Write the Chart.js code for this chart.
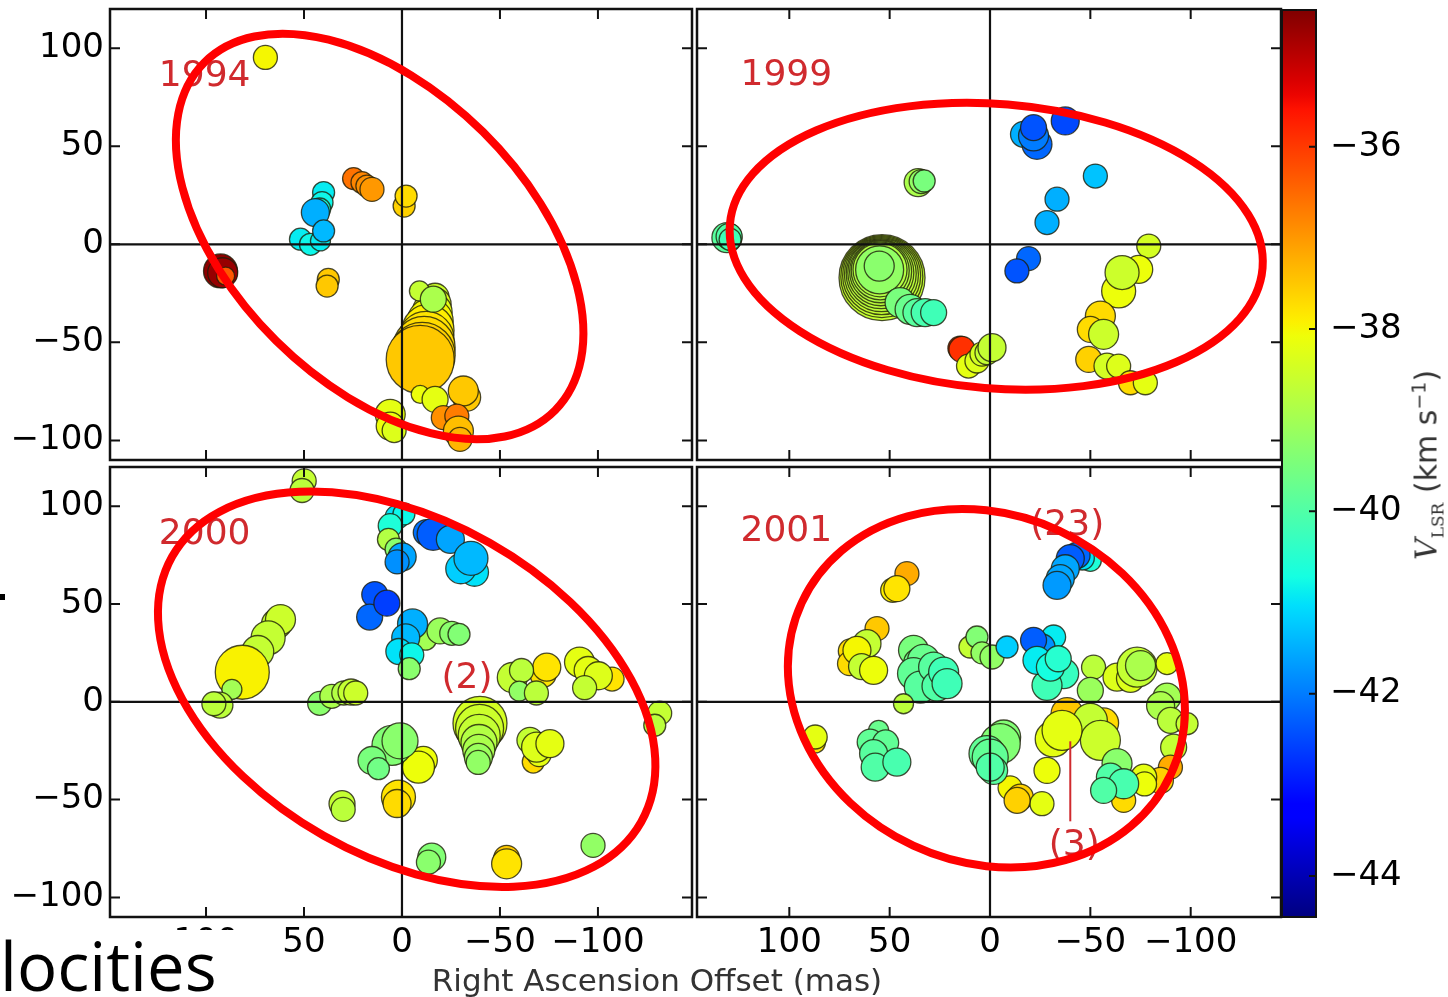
<!DOCTYPE html>
<html>
<head>
<meta charset="utf-8">
<script src="https://cdn.jsdelivr.net/npm/chart.js@4.4.0/dist/chart.umd.min.js"></script>
<style>
  html, body { margin: 0; padding: 0; background: #fff; }
  #wrap { position: relative; width: 1448px; height: 997px; overflow: hidden; background: #fff; }
  #wrap canvas { position: absolute; left: 0; top: 0; }
  .txt { position: absolute; white-space: nowrap; }
</style>
</head>
<body>
<div id="wrap">
  <canvas id="p1994" width="1448" height="997"></canvas>
  <canvas id="p1999" width="1448" height="997"></canvas>
  <canvas id="p2000" width="1448" height="997"></canvas>
  <canvas id="p2001" width="1448" height="997"></canvas>
  <canvas id="cbar" width="1448" height="997"></canvas>

  <div class="txt" id="xlabel" style="left:657px; top:962px; transform:translateX(-50%); font-family:'DejaVu Sans'; font-size:31px; line-height:36px; color:#333;">Right Ascension Offset (mas)</div>
  <div class="txt" id="cblabel" style="left:1428px; top:465px; transform:translate(-50%,-50%) rotate(-90deg); font-family:'DejaVu Sans'; font-size:30px; line-height:36px; color:#333;"><span style="font-family:'DejaVu Serif'; font-style:italic;">V</span><sub style="font-family:'DejaVu Serif'; font-size:17px;">LSR</sub> (km s<sup style="font-size:19px;">−1</sup>)</div>
  <div class="txt" style="left:0; top:930px; width:240px; height:67px; background:#fff;"></div>
  <div class="txt" style="left:0; top:932px; font-family:'Open Sans'; font-size:67px; line-height:67px; color:#000;">locities</div>
  <div class="txt" style="left:0; top:594px; width:5px; height:6px; background:#000;"></div>
</div>

<script>
// Maser spots per epoch: [RA offset (mas), Dec offset (mas), V_LSR (km/s), spot size]
const spots1994 = [
  [69.7, 95.3, -38.0, 12],
  [24.7, 33.5, -36.6, 11], [20.4, 31.5, -36.8, 11], [17.9, 29.7, -36.9, 11], [15.3, 28.0, -37.0, 12],
  [-1.1, 19.5, -37.6, 11], [-2.1, 24.6, -37.7, 11],
  [40.0, 26.4, -40.9, 11], [40.8, 21.3, -40.8, 11], [42.0, 18.0, -40.7, 11], [44.2, 16.2, -41.5, 14],
  [51.8, 2.6, -40.9, 11], [46.7, 0.0, -40.8, 11], [41.6, 1.7, -40.9, 10], [40.0, 6.8, -41.4, 11],
  [92.6, -13.6, -34.6, 17], [91.5, -14.5, -34.7, 15], [90.0, -16.2, -36.3, 9],
  [37.6, -17.9, -37.5, 11], [38.2, -21.3, -37.5, 11],
  [-16.9, -27.0, -38.5, 14], [-16.4, -30.6, -38.3, 17], [-15.4, -34.7, -38.2, 20], [-14.4, -39.3, -38.0, 23],
  [-13.3, -43.9, -37.9, 26], [-12.3, -48.5, -37.8, 28], [-11.3, -52.6, -37.7, 31], [-10.3, -56.6, -37.6, 33],
  [-9.3, -58.7, -37.5, 34],
  [-8.9, -23.8, -38.6, 10], [-16.0, -28.0, -38.9, 13],
  [-9.3, -76.5, -38.1, 9], [-16.9, -79.1, -38.2, 13],
  [-33.0, -78.0, -37.5, 14], [-31.3, -74.8, -37.5, 15],
  [-21.1, -88.4, -36.9, 12], [-28.0, -87.6, -36.7, 12],
  [-28.8, -95.3, -37.4, 15], [-29.6, -99.5, -37.3, 12],
  [6.0, -86.7, -38.2, 15], [6.0, -92.7, -38.1, 14], [4.0, -95.0, -38.3, 12]
];

const spots1999 = [
  [131.1, 3.4, -39.9, 15], [130.0, 4.0, -40.0, 13], [129.5, 2.5, -40.2, 11],
  [35.8, 31.5, -38.9, 14], [34.3, 32.0, -39.2, 12], [32.8, 32.3, -39.5, 11],
  [53.8, -17.0, -38.6, 43], [53.9, -16.5, -38.6, 41], [54.0, -16.0, -38.6, 39], [54.1, -15.5, -38.7, 37],
  [54.2, -15.0, -38.7, 35], [54.4, -14.5, -38.7, 33], [54.5, -14.0, -38.8, 31], [54.7, -13.5, -38.8, 29],
  [54.8, -13.0, -38.8, 27], [55.0, -13.0, -39.2, 24], [55.2, -11.1, -39.3, 15],
  [44.8, -29.7, -39.5, 15], [39.8, -33.2, -39.7, 15], [36.4, -34.8, -39.9, 14], [32.3, -34.8, -40.1, 14],
  [28.1, -34.8, -40.2, 13],
  [15.0, -53.0, -35.8, 12], [14.0, -53.6, -35.9, 13],
  [10.7, -62.1, -38.2, 12], [6.5, -59.5, -38.3, 12], [4.0, -56.0, -38.4, 12],
  [1.5, -55.3, -38.6, 12], [-1.0, -52.7, -38.6, 14],
  [-16.7, 56.1, -41.5, 13], [-23.4, 51.0, -42.2, 15], [-21.7, 55.3, -42.0, 15], [-21.7, 59.5, -42.4, 13],
  [-37.5, 62.9, -42.5, 14],
  [-52.5, 34.8, -41.3, 12], [-33.4, 23.0, -41.5, 12], [-28.4, 11.1, -41.5, 12],
  [-19.2, -7.3, -42.2, 12], [-13.4, -13.6, -42.4, 12],
  [-79.1, -0.9, -38.4, 12], [-74.1, -12.8, -38.1, 14], [-64.1, -23.8, -38.1, 17], [-65.8, -14.4, -38.5, 17],
  [-55.0, -36.6, -37.7, 15], [-50.0, -43.4, -37.7, 13], [-56.6, -45.9, -38.5, 15],
  [-49.2, -58.7, -37.6, 13], [-58.3, -62.1, -38.4, 13], [-64.1, -62.1, -38.3, 12],
  [-70.0, -70.6, -37.7, 12], [-77.4, -70.6, -38.2, 12]
];

const spots2000 = [
  [49.9, 112.9, -38.6, 12], [51.0, 108.0, -38.7, 12],
  [2.5, 94.4, -41.0, 12], [-1.0, 96.0, -40.8, 11], [6.0, 90.0, -40.6, 12], [6.9, 83.0, -38.8, 11], [3.0, 78.0, -39.3, 11],
  [-0.1, 74.1, -41.6, 14], [2.5, 71.5, -41.8, 12], [-12.4, 86.5, -42.1, 13], [-15.9, 85.6, -42.3, 16],
  [-24.7, 83.0, -41.6, 14], [-37.0, 66.2, -41.0, 14], [-30.0, 68.0, -41.2, 15], [-35.2, 73.3, -41.4, 17],
  [13.9, 54.8, -42.4, 13], [16.5, 43.3, -42.2, 13], [7.7, 50.4, -42.6, 13],
  [-12.0, 32.0, -39.0, 11], [-19.4, 36.2, -39.1, 13], [-25.4, 35.0, -39.3, 12], [-29.1, 34.5, -39.4, 11],
  [-5.4, 39.8, -41.5, 15], [-1.9, 32.7, -41.4, 14], [1.6, 25.7, -41.0, 13], [-5.0, 24.0, -40.8, 12],
  [-3.7, 16.9, -39.3, 11],
  [64.0, 39.8, -38.6, 15], [62.0, 42.0, -38.5, 15], [68.3, 32.7, -38.6, 17], [73.6, 25.7, -38.6, 16],
  [81.5, 15.1, -37.95, 27], [86.8, 6.3, -39.0, 10], [92.9, -1.7, -38.7, 13], [96.0, -1.0, -38.7, 12],
  [42.0, -0.8, -39.3, 12], [35.8, 2.8, -38.9, 12], [29.7, 4.5, -38.8, 12], [26.0, 5.0, -38.6, 13], [23.6, 4.5, -38.5, 12],
  [-72.0, 14.0, -37.8, 13], [-73.9, 17.7, -37.8, 14],
  [-56.3, 12.4, -38.6, 15], [-61.0, 16.0, -38.7, 12], [-59.8, 5.4, -39.2, 10], [-68.6, 4.5, -38.7, 12],
  [-107.2, 11.6, -37.8, 12], [-90.6, 20.3, -38.2, 15], [-95.0, 16.0, -38.2, 14], [-100.2, 13.3, -38.3, 14],
  [-93.2, 7.2, -38.6, 12],
  [-131.5, -5.8, -38.6, 12], [-129.0, -12.0, -38.7, 11],
  [-39.8, -11.0, -38.4, 27], [-39.6, -13.6, -38.5, 24], [-39.4, -17.2, -38.6, 21], [-39.3, -20.8, -38.8, 18],
  [-39.2, -24.8, -38.9, 16], [-39.0, -28.4, -39.1, 14], [-38.9, -31.0, -39.2, 12],
  [-67.0, -30.8, -37.7, 11], [-65.3, -19.7, -38.6, 13], [-70.0, -27.0, -38.2, 12],
  [-68.7, -23.2, -38.3, 15], [-75.5, -21.4, -38.2, 14],
  [1.8, -48.7, -37.8, 17], [2.5, -52.0, -37.7, 14],
  [-10.9, -29.9, -38.1, 14], [-8.4, -33.4, -38.1, 16],
  [5.1, -22.3, -39.4, 20], [1.0, -20.0, -39.3, 18], [15.3, -30.0, -39.5, 14], [12.0, -34.2, -39.6, 11],
  [30.6, -52.1, -38.6, 13], [30.0, -55.0, -38.7, 12],
  [-15.2, -79.4, -39.4, 14], [-13.5, -82.0, -39.3, 12],
  [-53.4, -80.0, -37.5, 13], [-53.4, -82.8, -37.8, 15],
  [-97.5, -73.4, -39.2, 12]
];

const spots2001 = [
  [41.4, 65.5, -37.2, 12], [48.5, 57.0, -37.9, 12], [46.4, 57.8, -37.8, 13],
  [56.3, 37.4, -37.5, 12], [69.6, 26.0, -37.7, 12], [70.0, 19.5, -37.7, 12], [61.3, 29.7, -38.6, 14],
  [66.3, 26.3, -38.0, 14], [64.0, 18.0, -38.6, 13], [58.0, 16.1, -38.1, 14],
  [38.1, 26.3, -39.5, 15], [36.0, 20.0, -39.6, 14], [33.1, 21.2, -39.7, 16], [38.1, 14.4, -39.8, 16],
  [34.7, 7.5, -39.9, 16], [28.1, 17.7, -39.9, 15], [26.4, 8.0, -40.0, 15], [23.1, 15.2, -40.2, 15],
  [21.4, 9.3, -40.2, 15],
  [43.1, -1.0, -38.7, 10],
  [10.0, 28.0, -38.6, 11], [6.5, 33.1, -39.4, 11], [4.0, 25.0, -39.2, 11], [-1.0, 22.9, -39.2, 12],
  [-8.5, 28.0, -41.2, 11], [-31.7, 33.1, -40.9, 12], [-25.9, 28.0, -41.8, 13], [-21.7, 31.4, -42.3, 13],
  [-36.7, 14.4, -40.3, 15], [-28.4, 8.4, -40.2, 15], [-23.4, 21.2, -40.9, 14], [-30.1, 17.7, -40.7, 14],
  [-34.0, 22.0, -40.5, 13],
  [-50.0, 72.3, -40.6, 11], [-46.0, 73.5, -41.0, 12], [-43.4, 74.9, -42.2, 13], [-40.0, 73.2, -42.3, 14],
  [-37.5, 68.0, -41.6, 14], [-35.0, 62.9, -41.6, 14], [-33.4, 59.5, -41.7, 14],
  [-51.6, 17.7, -38.7, 12], [-50.0, 5.8, -39.1, 13], [-63.3, 12.6, -38.3, 14], [-70.0, 12.0, -38.3, 14],
  [-73.3, 17.7, -38.6, 20], [-75.0, 18.5, -38.9, 15], [-88.2, 19.5, -38.2, 11],
  [-88.2, 2.4, -39.0, 14], [-85.0, -2.0, -38.9, 14], [-89.9, -9.5, -38.7, 13], [-98.2, -11.2, -38.6, 11],
  [-91.5, -23.2, -38.6, 13], [-89.9, -33.4, -37.2, 12], [-84.9, -40.2, -37.6, 13],
  [-38.4, -6.1, -37.5, 16], [-56.6, -10.8, -37.7, 15], [-50.0, -9.5, -38.6, 17], [-55.0, -19.7, -38.5, 20],
  [-31.5, -19.0, -38.2, 18], [-35.9, -14.6, -38.2, 20], [-28.4, -35.1, -38.1, 13],
  [-66.6, -50.4, -37.7, 12], [-63.3, -31.6, -39.3, 15], [-76.6, -38.5, -38.2, 13], [-77.0, -42.0, -38.1, 12],
  [-60.0, -38.5, -40.0, 14], [-66.6, -41.9, -40.1, 15], [-56.6, -45.3, -40.0, 13],
  [-10.0, -44.0, -38.0, 12], [-15.1, -48.7, -37.6, 13], [-25.9, -52.1, -38.2, 12], [-13.5, -50.4, -37.6, 13],
  [-6.8, -18.0, -39.4, 17], [-5.1, -21.4, -39.4, 20], [1.5, -26.5, -39.8, 18], [-0.1, -28.3, -39.8, 18],
  [-1.8, -35.1, -39.9, 14], [-0.1, -33.4, -40.0, 14],
  [55.5, -14.6, -39.7, 10], [59.7, -20.6, -39.8, 13], [52.0, -21.0, -39.8, 13], [58.0, -26.5, -39.9, 14],
  [57.2, -33.4, -40.0, 14], [46.4, -30.8, -40.1, 14],
  [87.0, -21.0, -37.8, 10], [87.1, -18.0, -38.2, 12]
];

// Tick values for the offset axes and the velocity colour bar
const xTickValues = [-100, -50, 0, 50, 100];
const yTickValues = [-100, -50, 0, 50, 100];
const cbarTickValues = [-44, -42, -40, -38, -36];
const vMin = -44.45, vMax = -34.5;

// Hand-drawn ring around each epoch's emission: centre (mas), semi-axes (mas), tilt (deg)
const ring1994 = { ra: 11.4, dec: 4.0, a: 126, b: 75, tilt: 44.7 };
const ring1999 = { ra: -3.1, dec: -1.0, a: 134.7, b: 71.7, tilt: 4.7 };
const ring2000 = { ra: -2.4, dec: 6.4, a: 137.6, b: 86, tilt: 29.5 };
const ring2001 = { ra: 1.8, dec: 6.9, a: 102.7, b: 87.6, tilt: 24.9 };

// Annotations: epoch tag and feature numbers
const notes1994 = [{ text: '1994', ra: 100.7, dec: 85.6 }];
const notes1999 = [{ text: '1999', ra: 101.5, dec: 86.1 }];
const notes2000 = [{ text: '2000', ra: 100.7, dec: 85.6 }, { text: '(2)', ra: -33.2, dec: 12.0 }];
const notes2001 = [{ text: '2001', ra: 101.5, dec: 87.0 }, { text: '(23)', ra: -38.5, dec: 90.2 }, { text: '(3)', ra: -42, dec: -73.4 }];
const leader2001 = [[-40, -20.2], [-40, -61.1]];

// matplotlib "jet" colour map
const JET = {
  r: [[0, 0], [0.35, 0], [0.66, 1], [0.89, 1], [1, 0.5]],
  g: [[0, 0], [0.125, 0], [0.375, 1], [0.64, 1], [0.91, 0], [1, 0]],
  b: [[0, 0.5], [0.11, 1], [0.34, 1], [0.65, 0], [1, 0]]
};
function interp(pts, t) {
  for (let i = 1; i < pts.length; i++) {
    if (t <= pts[i][0]) {
      const [x0, y0] = pts[i - 1], [x1, y1] = pts[i];
      return y0 + (y1 - y0) * (t - x0) / (x1 - x0);
    }
  }
  return pts[pts.length - 1][1];
}
function jetAt(t) {
  t = Math.max(0, Math.min(1, t));
  const c = k => Math.round(255 * interp(JET[k], t));
  return `rgb(${c('r')},${c('g')},${c('b')})`;
}
function velColor(v) { return jetAt((v - vMin) / (vMax - vMin)); }

const fmt = v => (v < 0 ? '\u2212' + Math.abs(v) : String(v));
const W = 1448, H = 997;
const RED_TEXT = '#d02a2e';

const panels = [
  { id: 'p1994', spots: spots1994, ring: ring1994, notes: notes1994, leader: null, box: { l: 110, r: 692, t: 9, b: 460 }, xr: [-148, 149], showX: false, showY: true },
  { id: 'p1999', spots: spots1999, ring: ring1999, notes: notes1999, leader: null, box: { l: 697, r: 1281, t: 9, b: 460 }, xr: [-145, 146], showX: false, showY: false },
  { id: 'p2000', spots: spots2000, ring: ring2000, notes: notes2000, leader: null, box: { l: 110, r: 692, t: 467, b: 917 }, xr: [-148, 149], showX: true, showY: true },
  { id: 'p2001', spots: spots2001, ring: ring2001, notes: notes2001, leader: leader2001, box: { l: 697, r: 1281, t: 467, b: 917 }, xr: [-145, 146], showX: true, showY: false }
];

const tickFont = { family: 'DejaVu Sans', size: 34, lineHeight: 1 };

// keep the plot box exactly where the layout puts it
function pinScale(sc, size) {
  if (sc.isHorizontal()) sc.height = size; else sc.width = size;
  sc.paddingTop = 0; sc.paddingBottom = 0; sc.paddingLeft = 0; sc.paddingRight = 0;
}

function makePanel(p) {
  const deco = {
    id: 'deco_' + p.id,
    afterDatasetsDraw(chart) {
      const { ctx, chartArea: a, scales: { x, y } } = chart;
      ctx.save();
      // zero-offset cross hairs
      ctx.strokeStyle = '#111';
      ctx.lineWidth = 2.2;
      const x0 = x.getPixelForValue(0), y0 = y.getPixelForValue(0);
      ctx.beginPath();
      ctx.moveTo(x0, a.top); ctx.lineTo(x0, a.bottom);
      ctx.moveTo(a.left, y0); ctx.lineTo(a.right, y0);
      ctx.stroke();

      // frame
      ctx.lineWidth = 2.5;
      ctx.strokeRect(a.left, a.top, a.right - a.left, a.bottom - a.top);

      // inward tick marks on all four sides
      const tl = 10;
      ctx.lineWidth = 2;
      ctx.beginPath();
      xTickValues.forEach(v => {
        const px = x.getPixelForValue(v);
        ctx.moveTo(px, a.bottom); ctx.lineTo(px, a.bottom - tl);
        ctx.moveTo(px, a.top); ctx.lineTo(px, a.top + tl);
      });
      yTickValues.forEach(v => {
        const py = y.getPixelForValue(v);
        ctx.moveTo(a.left, py); ctx.lineTo(a.left + tl, py);
        ctx.moveTo(a.right, py); ctx.lineTo(a.right - tl, py);
      });
      ctx.stroke();

      // epoch tag and feature labels
      ctx.fillStyle = RED_TEXT;
      ctx.font = '36px "DejaVu Sans"';
      ctx.textAlign = 'center';
      ctx.textBaseline = 'middle';
      p.notes.forEach(n => ctx.fillText(n.text, x.getPixelForValue(n.ra), y.getPixelForValue(n.dec)));
      if (p.leader) {
        ctx.strokeStyle = RED_TEXT;
        ctx.lineWidth = 2;
        ctx.beginPath();
        ctx.moveTo(x.getPixelForValue(p.leader[0][0]), y.getPixelForValue(p.leader[0][1]));
        ctx.lineTo(x.getPixelForValue(p.leader[1][0]), y.getPixelForValue(p.leader[1][1]));
        ctx.stroke();
      }

      // ring
      const e = p.ring;
      const sx = Math.abs(x.getPixelForValue(1) - x.getPixelForValue(0));
      const sy = Math.abs(y.getPixelForValue(1) - y.getPixelForValue(0));
      const s = (sx + sy) / 2;
      ctx.strokeStyle = '#ff0000';
      ctx.lineWidth = 8;
      ctx.beginPath();
      ctx.ellipse(x.getPixelForValue(e.ra), y.getPixelForValue(e.dec), e.a * s, e.b * s, e.tilt * Math.PI / 180, 0, 2 * Math.PI);
      ctx.stroke();
      ctx.restore();
    }
  };

  return new Chart(document.getElementById(p.id), {
    type: 'bubble',
    data: {
      datasets: [{
        data: p.spots.map(s => ({ x: s[0], y: s[1], v: s[2], r: s[3] })),
        backgroundColor: c => velColor(c.raw.v),
        borderColor: 'rgba(30,30,10,0.8)',
        borderWidth: 1.3,
        hoverRadius: 0,
        clip: 0
      }]
    },
    options: {
      responsive: false,
      animation: false,
      events: [],
      layout: {
        autoPadding: false,
        padding: {
          left: p.showY ? 0 : p.box.l,
          right: W - p.box.r,
          top: p.box.t,
          bottom: p.showX ? 0 : H - p.box.b
        }
      },
      plugins: { legend: { display: false }, tooltip: { enabled: false } },
      scales: {
        x: {
          type: 'linear', reverse: true, min: p.xr[0], max: p.xr[1],
          display: p.showX,
          grid: { display: false, drawTicks: false },
          border: { display: false },
          afterBuildTicks: sc => { sc.ticks = xTickValues.map(v => ({ value: v })); },
          afterFit: sc => pinScale(sc, p.showX ? H - p.box.b : 0),
          ticks: { font: tickFont, color: '#000', padding: 9, maxRotation: 0, autoSkip: false, callback: v => fmt(v) }
        },
        y: {
          type: 'linear', min: -110, max: 120,
          display: p.showY,
          grid: { display: false, drawTicks: false },
          border: { display: false },
          afterBuildTicks: sc => { sc.ticks = yTickValues.map(v => ({ value: v })); },
          afterFit: sc => pinScale(sc, p.showY ? p.box.l : 0),
          ticks: { font: tickFont, color: '#000', padding: 6, autoSkip: false, callback: v => fmt(v) }
        }
      }
    },
    plugins: [deco]
  });
}

panels.forEach(makePanel);

// Velocity colour bar
const cbarPlugin = {
  id: 'cbarFill',
  beforeDatasetsDraw(chart) {
    const { ctx, chartArea: a, scales: { y } } = chart;
    const yTop = y.getPixelForValue(vMax), yBot = y.getPixelForValue(vMin);
    const g = ctx.createLinearGradient(0, yBot, 0, yTop);
    const n = 64;
    for (let i = 0; i <= n; i++) g.addColorStop(i / n, jetAt(i / n));
    ctx.save();
    ctx.fillStyle = g;
    ctx.fillRect(a.left, a.top, a.right - a.left, a.bottom - a.top);
    ctx.strokeStyle = '#111';
    ctx.lineWidth = 2;
    ctx.strokeRect(a.left, a.top, a.right - a.left, a.bottom - a.top);
    ctx.beginPath();
    cbarTickValues.forEach(v => {
      const py = y.getPixelForValue(v);
      ctx.moveTo(a.right, py); ctx.lineTo(a.right - 7, py);
    });
    ctx.stroke();
    ctx.restore();
  }
};

new Chart(document.getElementById('cbar'), {
  type: 'scatter',
  data: { datasets: [{ data: [] }] },
  options: {
    responsive: false,
    animation: false,
    events: [],
    layout: { autoPadding: false, padding: { left: 1282, right: 0, top: 10, bottom: H - 917 } },
    plugins: { legend: { display: false }, tooltip: { enabled: false } },
    scales: {
      x: { type: 'linear', display: false, min: 0, max: 1, afterFit: sc => pinScale(sc, 0) },
      y: {
        type: 'linear', position: 'right', min: vMin, max: vMax,
        grid: { display: false, drawTicks: false },
        border: { display: false },
        afterBuildTicks: sc => { sc.ticks = cbarTickValues.map(v => ({ value: v })); },
        afterFit: sc => pinScale(sc, W - 1316),
        ticks: { font: tickFont, color: '#000', padding: 14, autoSkip: false, callback: v => fmt(v) }
      }
    }
  },
  plugins: [cbarPlugin]
});
</script>
</body>
</html>
